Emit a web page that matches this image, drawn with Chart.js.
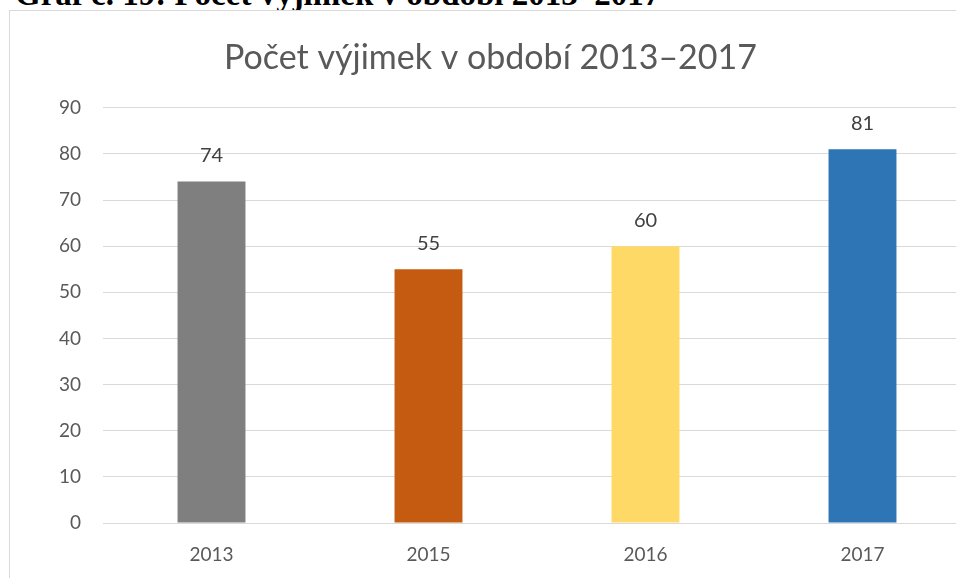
<!DOCTYPE html>
<html>
<head>
<meta charset="utf-8">
<script src="https://cdn.jsdelivr.net/npm/chart.js@4"></script>
<style>
  html, body { margin: 0; padding: 0; background: #fff; overflow: hidden; width: 956px; height: 578px; }
  #caption {
    position: absolute; left: 15px; top: -22px; margin: 0;
    font-family: "Liberation Serif", serif; font-weight: bold; font-size: 33px;
    line-height: 33px; color: #000; white-space: nowrap;
  }
  #box {
    position: absolute; left: 9px; top: 10px; width: 1000px; height: 640px;
    border: 1px solid #d9d9d9; background: #fff;
  }
  #wrap { position: absolute; left: 0; top: 0; width: 980px; height: 600px; }
</style>
</head>
<body>
<div id="caption">Graf č. 19: Počet výjimek v období 2013–2017</div>
<div id="box">
  <div id="wrap"><canvas id="myChart"></canvas></div>
</div>
<script>
// data
var years = ['2013', '2015', '2016', '2017'];
var counts = [74, 55, 60, 81];
var barColors = ['#7f7f7f', '#c55a11', '#ffd966', '#2e75b6'];
var yTicks = [0, 10, 20, 30, 40, 50, 60, 70, 80, 90];

var FONT = 'Lato, "Open Sans", sans-serif';

// value labels above the bars
var valueLabels = {
  id: 'valueLabels',
  afterDatasetsDraw: function(chart) {
    var ctx = chart.ctx;
    var meta = chart.getDatasetMeta(0);
    ctx.save();
    ctx.font = '20px ' + FONT;
    ctx.fillStyle = '#404040';
    ctx.textAlign = 'center';
    ctx.textBaseline = 'middle';
    meta.data.forEach(function(bar, i) {
      ctx.fillText(String(counts[i]), bar.x, bar.y - 26);
    });
    ctx.restore();
  }
};

var ctx = document.getElementById('myChart').getContext('2d');
var myChart = new Chart(ctx, {
  type: 'bar',
  data: {
    labels: years,
    datasets: [{
      data: counts,
      backgroundColor: barColors,
      borderWidth: 0,
      barPercentage: 0.313,
      categoryPercentage: 1
    }]
  },
  options: {
    responsive: true,
    maintainAspectRatio: false,
    animation: false,
    layout: { padding: { left: 0, right: 19, top: 0, bottom: 0 } },
    plugins: {
      legend: { display: false },
      tooltip: { enabled: false },
      title: {
        display: true,
        text: 'Počet výjimek v období 2013–2017',
        color: '#595959',
        font: { family: FONT, size: 34, weight: 'normal' },
        padding: { top: 27, bottom: 29 }
      }
    },
    scales: {
      x: {
        grid: { display: false, drawTicks: false },
        border: { display: true, color: '#d9d9d9' },
        ticks: { color: '#595959', font: { family: FONT, size: 19 }, padding: 20 },
        afterFit: function(scale) { scale.height = 88; }
      },
      y: {
        min: 0,
        max: 90,
        afterBuildTicks: function(scale) {
          scale.ticks = yTicks.map(function(v) { return { value: v }; });
        },
        grid: { color: '#d9d9d9', drawTicks: false },
        border: { display: false },
        ticks: { color: '#595959', font: { family: FONT, size: 19 }, padding: 22 },
        afterFit: function(scale) { scale.width = 93; }
      }
    }
  },
  plugins: [valueLabels]
});
</script>
</body>
</html>
